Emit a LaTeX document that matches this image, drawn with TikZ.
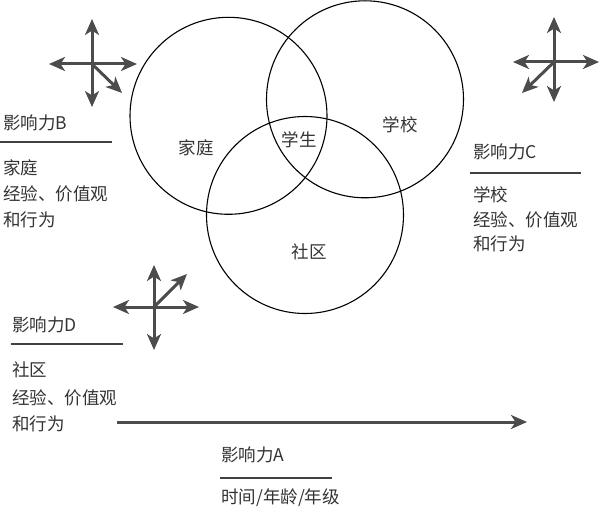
\documentclass[tikz,border=0pt]{standalone}
\usepackage{fontspec}
\setmainfont{Noto Sans CJK SC}
\usetikzlibrary{arrows.meta}
\begin{document}
\begin{tikzpicture}[x=1pt,y=-1pt,
  txt/.style={anchor=west,inner sep=0pt,font=\fontsize{17.5}{20}\selectfont,text=black!80},
  lbl/.style={inner sep=0pt,font=\fontsize{17.5}{20}\selectfont,text=black!80},
  ring/.style={circle,draw=black,line width=1.1pt,minimum size=197pt,inner sep=0pt},
  rule/.style={draw=black!75,line width=1.2pt},
  arr/.style={draw=black!70,line width=3pt,-{Stealth[length=16pt,width=14pt,inset=4.5pt]}},
]
\useasboundingbox (0,0) rectangle (600,508);

% circles
\node[ring] (family) at (228.5,115.8) {};
\node[ring] (school) at (365,99.3) {};
\node[ring] (community) at (305,215) {};
\node[lbl] (lfam) at (196,148) {家庭};
\node[lbl] (lstu) at (299,140) {学生};
\node[lbl] (lsch) at (400,125) {学校};
\node[lbl] (lcom) at (309,252) {社区};

% cross 1
\coordinate (c1) at (92,64);
\coordinate (c1u) at (92,19);
\coordinate (c1d) at (92,107);
\coordinate (c1l) at (49,64);
\coordinate (c1r) at (137,64);
\coordinate (c1g) at (122,93);
\foreach \t in {c1u,c1d,c1l,c1r,c1g} \draw[arr] (c1) -- (\t);

% cross 2
\coordinate (c2) at (554,62);
\coordinate (c2u) at (554,17);
\coordinate (c2d) at (554,102);
\coordinate (c2l) at (513,62);
\coordinate (c2r) at (599,62);
\coordinate (c2g) at (522,93);
\foreach \t in {c2u,c2d,c2l,c2r,c2g} \draw[arr] (c2) -- (\t);

% cross 3
\coordinate (c3) at (154,307);
\coordinate (c3u) at (154,265);
\coordinate (c3d) at (154,350);
\coordinate (c3l) at (113,307);
\coordinate (c3r) at (199,307);
\coordinate (c3g) at (187,274);
\foreach \t in {c3u,c3d,c3l,c3r,c3g} \draw[arr] (c3) -- (\t);

% main arrow
\coordinate (as) at (117,422);
\coordinate (ae) at (527,422);
\draw[arr] (as) -- (ae);

% B
\node[txt] (bh) at (3,123) {影响力B};
\coordinate (bl1) at (0,142); \coordinate (bl2) at (112,142);
\draw[rule] (bl1) -- (bl2);
\node[txt] (b1) at (3,168) {家庭};
\node[txt] (b2) at (3,194) {经验、价值观};
\node[txt] (b3) at (3,220) {和行为};

% C
\node[txt] (ch) at (473,152) {影响力C};
\coordinate (cl1) at (470,173); \coordinate (cl2) at (581,173);
\draw[rule] (cl1) -- (cl2);
\node[txt] (cc1) at (473,195) {学校};
\node[txt] (cc2) at (473,220) {经验、价值观};
\node[txt] (cc3) at (473,244) {和行为};

% D
\node[txt] (dh) at (12,325) {影响力D};
\coordinate (dl1) at (11,344); \coordinate (dl2) at (123,344);
\draw[rule] (dl1) -- (dl2);
\node[txt] (d1) at (12,370) {社区};
\node[txt] (d2) at (12,398) {经验、价值观};
\node[txt] (d3) at (12,424) {和行为};

% A
\node[txt] (ah) at (221,455) {影响力A};
\coordinate (al1) at (220,478); \coordinate (al2) at (332,478);
\draw[rule] (al1) -- (al2);
\node[txt] (a1) at (221,498) {时间/年龄/年级};
\end{tikzpicture}
\end{document}
